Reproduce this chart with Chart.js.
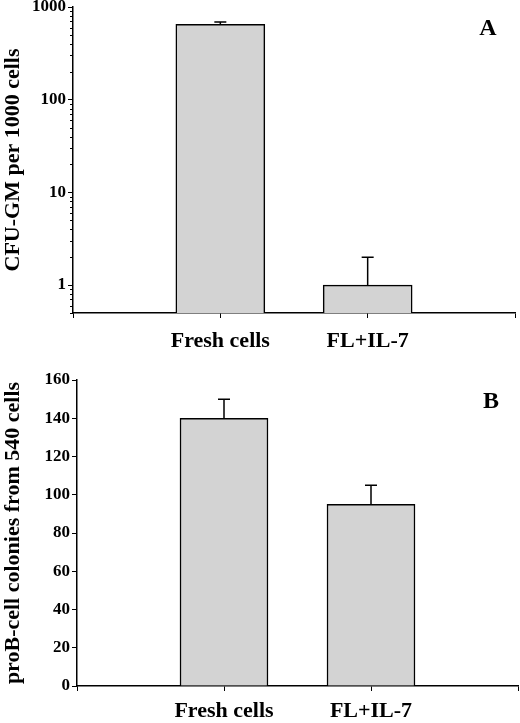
<!DOCTYPE html>
<html>
<head>
<meta charset="utf-8">
<script src="https://cdn.jsdelivr.net/npm/chart.js@4/dist/chart.umd.min.js"></script>
<style>
  html, body { margin: 0; padding: 0; background: #fff; overflow: hidden; }
  .panel { position: relative; width: 520px; }
  #boxA { height: 360px; }
  #boxB { height: 363px; }
</style>
</head>
<body>
<div class="panel" id="boxA"><canvas id="chartA"></canvas></div>
<div class="panel" id="boxB"><canvas id="chartB"></canvas></div>
<script>
// catégories (une case vide de chaque côté, comme sur la figure)
const categories = ["Fresh cells", "FL+IL-7"];
const xLabels = ["", ...categories, ""];

// panneau A : CFU-GM pour 1000 cellules (échelle log)
const cfuGM = [650, 1.0];
const cfuGMErr = [40, 1.0];
const logMajorTicks = [1, 10, 100, 1000];

// panneau B : colonies pro-B pour 540 cellules
const proB = [140, 95];
const proBErr = [10, 10];

const serif = "'Liberation Serif', 'Times New Roman', serif";
const barGray = "#d3d3d3";

// place les valeurs dans les cases du milieu
function pad(arr) {
    return [null, ...arr, null];
}

// barres d'erreur vers le haut avec un petit chapeau
const errorBars = {
    id: "errorBars",
    afterDatasetsDraw(chart, args, opts) {
        const ctx = chart.ctx;
        const meta = chart.getDatasetMeta(0);
        const y = chart.scales.y;
        const data = chart.data.datasets[0].data;
        ctx.save();
        ctx.strokeStyle = "#000";
        ctx.lineWidth = 1.5;
        meta.data.forEach((bar, i) => {
            const v = data[i];
            if (v == null) return;
            const err = opts.errors[i - 1];
            const yTop = y.getPixelForValue(v + err);
            const yBar = y.getPixelForValue(v);
            ctx.beginPath();
            ctx.moveTo(bar.x, yBar);
            ctx.lineTo(bar.x, yTop);
            ctx.moveTo(bar.x - 6, yTop);
            ctx.lineTo(bar.x + 6, yTop);
            ctx.stroke();
        });
        ctx.restore();
    }
};

// lettre du panneau en haut à droite
const panelLetter = {
    id: "panelLetter",
    afterDraw(chart, args, opts) {
        const ctx = chart.ctx;
        ctx.save();
        ctx.font = "bold 24px " + serif;
        ctx.fillStyle = "#000";
        ctx.textAlign = "center";
        ctx.textBaseline = "middle";
        ctx.fillText(opts.text, chart.chartArea.right - 27, chart.chartArea.top + opts.dy);
        ctx.restore();
    }
};

// petites graduations du log (2..9 de chaque décade)
const minorLogTicks = {
    id: "minorLogTicks",
    afterDraw(chart) {
        const y = chart.scales.y;
        if (y.type !== "logarithmic") return;
        const ctx = chart.ctx;
        ctx.save();
        ctx.strokeStyle = "#000";
        ctx.lineWidth = 1;
        for (let d = 0.1; d < 1000; d *= 10) {
            for (let m = 2; m <= 9; m++) {
                const v = d * m;
                if (v < y.min || v > y.max) continue;
                const py = Math.round(y.getPixelForValue(v)) + 0.5;
                ctx.beginPath();
                ctx.moveTo(y.right - 3, py);
                ctx.lineTo(y.right, py);
                ctx.stroke();
            }
        }
        ctx.restore();
    }
};

function xAxis(h, gap) {
    return {
        offset: false,
        grid: {
            offset: false,
            drawOnChartArea: false,
            color: "#000",
            tickLength: 5,
            lineWidth: 1
        },
        border: { color: "#000", width: 1.5 },
        ticks: {
            color: "#000",
            padding: gap,
            maxRotation: 0,
            autoSkip: false,
            font: { family: serif, size: 22, weight: "bold" }
        },
        afterFit(scale) {
            scale.height = h;
            // pas de marge automatique aux extrémités
            scale.paddingLeft = 0;
            scale.paddingRight = 0;
        }
    };
}

function yTitle(text) {
    return {
        display: true,
        text: text,
        color: "#000",
        padding: { top: 0, bottom: 4 },
        font: { family: serif, size: 22, weight: "bold" }
    };
}

const tickFont = { family: serif, size: 17, weight: "bold" };

function fitY(w) {
    return function (scale) {
        scale.width = w;
        scale.paddingTop = 0;
        scale.paddingBottom = 0;
    };
}

new Chart(document.getElementById("chartA"), {
    type: "bar",
    data: {
        labels: xLabels,
        datasets: [{
            data: pad(cfuGM),
            backgroundColor: barGray,
            borderColor: "#000",
            borderWidth: 1.5,
            borderSkipped: "bottom",
            barThickness: 89
        }]
    },
    options: {
        responsive: true,
        maintainAspectRatio: false,
        animation: false,
        layout: { padding: { top: 7, right: 5, left: 0, bottom: 0 } },
        plugins: {
            legend: { display: false },
            tooltip: { enabled: false },
            errorBars: { errors: cfuGMErr },
            panelLetter: { text: "A", dy: 22 }
        },
        scales: {
            x: xAxis(47, 10),
            y: {
                type: "logarithmic",
                min: 0.5,
                max: 1000,
                afterBuildTicks(scale) {
                    scale.ticks = logMajorTicks.map(v => ({ value: v }));
                },
                grid: { drawOnChartArea: false, color: "#000", tickLength: 5 },
                border: { color: "#000", width: 1.5 },
                ticks: {
                    color: "#000",
                    padding: 2,
                    font: tickFont,
                    callback: v => String(v)
                },
                title: yTitle("CFU-GM per 1000 cells"),
                afterFit: fitY(73)
            }
        }
    },
    plugins: [errorBars, panelLetter, minorLogTicks]
});

new Chart(document.getElementById("chartB"), {
    type: "bar",
    data: {
        labels: xLabels,
        datasets: [{
            data: pad(proB),
            backgroundColor: barGray,
            borderColor: "#000",
            borderWidth: 1.5,
            borderSkipped: "bottom",
            barThickness: 88
        }]
    },
    options: {
        responsive: true,
        maintainAspectRatio: false,
        animation: false,
        layout: { padding: { top: 20, right: 2, left: 0, bottom: 0 } },
        plugins: {
            legend: { display: false },
            tooltip: { enabled: false },
            errorBars: { errors: proBErr },
            panelLetter: { text: "B", dy: 22 }
        },
        scales: {
            x: xAxis(37, 7),
            y: {
                min: 0,
                max: 160,
                grid: { drawOnChartArea: false, color: "#000", tickLength: 5 },
                border: { color: "#000", width: 1.5 },
                ticks: {
                    stepSize: 20,
                    color: "#000",
                    padding: 2,
                    font: tickFont
                },
                title: yTitle("proB-cell colonies from 540 cells"),
                afterFit: fitY(77)
            }
        }
    },
    plugins: [errorBars, panelLetter, minorLogTicks]
});
</script>
</body>
</html>
